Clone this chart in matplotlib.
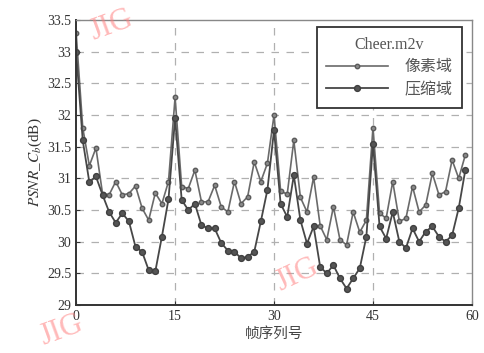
import matplotlib
matplotlib.use("Agg")
import matplotlib.pyplot as plt
import numpy as np

plt.rcParams['font.family'] = ['Liberation Serif', 'DejaVu Serif']
plt.rcParams['mathtext.fontset'] = 'stix'

frames = list(range(60))
pixel_domain = [33.3, 31.8, 31.2, 31.48, 30.76, 30.74, 30.95, 30.74, 30.76, 30.88,
                30.53, 30.34, 30.77, 30.6, 30.95, 32.28, 30.87, 30.84, 31.13, 30.63,
                30.63, 30.89, 30.55, 30.47, 30.95, 30.6, 30.71, 31.26, 30.95, 31.24,
                32.0, 30.8, 30.75, 31.6, 30.7, 30.47, 31.02, 30.25, 30.03, 30.55,
                30.03, 29.95, 30.47, 30.15, 30.34, 31.8, 30.45, 30.37, 30.95, 30.32,
                30.37, 30.87, 30.47, 30.58, 31.08, 30.74, 30.79, 31.29, 31.0, 31.37]
compressed_domain = [33.0, 31.6, 30.94, 31.03, 30.74, 30.47, 30.3, 30.45, 30.32, 29.92,
                     29.84, 29.55, 29.53, 30.08, 30.67, 31.95, 30.66, 30.5, 30.6, 30.26,
                     30.21, 30.21, 29.98, 29.86, 29.84, 29.74, 29.76, 29.84, 30.32, 30.82,
                     31.76, 30.6, 30.39, 31.05, 30.34, 29.97, 30.24, 29.6, 29.5, 29.63,
                     29.42, 29.26, 29.42, 29.58, 30.08, 31.55, 30.24, 30.05, 30.47, 30.0,
                     29.9, 30.21, 30.0, 30.16, 30.24, 30.08, 30.0, 30.1, 30.53, 31.13]
labels = ['像素域', '压缩域']
legend_title = 'Cheer.m2v'
xticks = [0, 15, 30, 45, 60]
yticks = [29, 29.5, 30, 30.5, 31, 31.5, 32, 32.5, 33, 33.5]

fig = plt.figure(figsize=(4.85, 3.53), dpi=100)
ax = fig.add_axes([0.157, 0.136, 0.816, 0.807])

ax.plot(frames, pixel_domain, color='#6a6a6a', lw=1.2, marker='o', ms=3.2,
        mfc='#8a8a8a', mec='#5a5a5a', label=labels[0])
ax.plot(frames, compressed_domain, color='#474747', lw=1.3, marker='o', ms=4.2,
        mfc='#555555', mec='#404040', label=labels[1])

ax.set_xlim(0, 60)
ax.set_ylim(29, 33.5)
ax.set_xticks(xticks)
ax.set_yticks(yticks)
ax.set_yticklabels([('%g' % v) for v in yticks])
ax.tick_params(direction='in', labelsize=10, colors='#333333', length=3)

for v in yticks[1:-1]:
    ax.axhline(v, color='#b0b0b0', lw=0.9, ls=(0, (6, 6)), zorder=0)
for v in xticks[1:-1]:
    ax.axvline(v, color='#b0b0b0', lw=0.9, ls=(0, (6, 6)), zorder=0)

for s in ['left', 'bottom']:
    ax.spines[s].set_color('#333333')
    ax.spines[s].set_linewidth(1.4)
for s in ['top', 'right']:
    ax.spines[s].set_color('#888888')
    ax.spines[s].set_linewidth(1.0)

ax.set_ylabel(r'$PSNR\_C_{b}$(dB)', fontsize=11, color='#333333', labelpad=2)
ax.set_xlabel('帧序列号', fontsize=10.5, color='#444444',
              family=['Noto Sans CJK SC', 'DejaVu Sans'], labelpad=3)

leg = ax.legend(title=legend_title, loc='upper right', bbox_to_anchor=(0.975, 0.975),
                borderaxespad=0.0,
                fancybox=False, edgecolor='#333333', framealpha=1, handlelength=3.9,
                handletextpad=1.0, borderpad=0.6, labelspacing=0.35,
                title_fontsize=11.5,
                prop={'family': ['Noto Sans CJK SC', 'DejaVu Sans'], 'size': 11.5})
leg.get_frame().set_linewidth(1.3)
leg.get_title().set_color('#555555')
leg.get_title().set_family(['Liberation Serif', 'DejaVu Serif'])
for t in leg.get_texts():
    t.set_color('#555555')

wm = dict(color='#ff8080', alpha=0.55, fontsize=22, family='Liberation Serif',
          ha='center', va='center', zorder=10)
fig.text(112 / 485, 1 - 25 / 353, 'JIG', rotation=20, **wm)
fig.text(62 / 485, 1 - 330 / 353, 'JIG', rotation=20, **wm)
fig.text(297 / 485, 1 - 275 / 353, 'JIG', rotation=25, **wm)

fig.savefig('out.png', dpi=100)
